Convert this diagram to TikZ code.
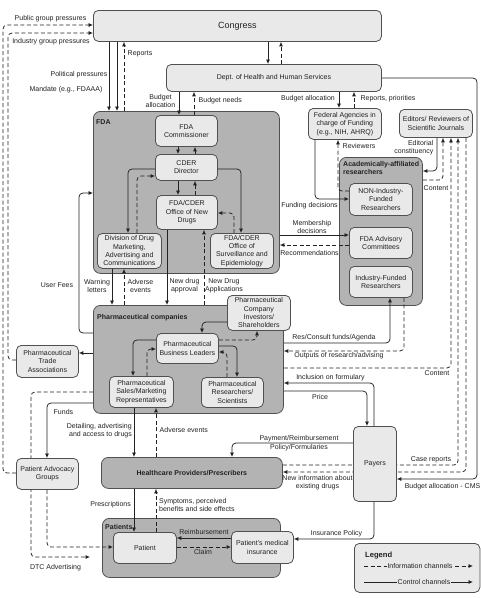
\documentclass[tikz,border=0pt]{standalone}
\usepackage{fontspec}
\setmainfont{Liberation Sans}
\usetikzlibrary{arrows.meta}
\pgfdeclarelayer{back}
\pgfdeclarelayer{bg}
\pgfsetlayers{back,bg,main}
\definecolor{lightf}{HTML}{E9E9E9}
\definecolor{darkf}{HTML}{B3B3B3}
\definecolor{bord}{HTML}{505050}
\definecolor{ink}{HTML}{222222}
\newcommand\fs{\fontsize{7}{8.3}\selectfont}
\newcommand\bx[7]{\pgfmathsetmacro\bxw{#5-#3}\pgfmathsetmacro\bxh{#6-#4}%
  \node[#2, anchor=north west, minimum width=\bxw pt, minimum height=\bxh pt] (#1) at (#3,#4) {#7};}
\tikzset{
 lbox/.style={draw=bord, fill=lightf, rounded corners=5pt, line width=0.8pt, align=center, font=\fs, text=ink, inner sep=1pt},
 dbox/.style={draw=bord, fill=darkf, rounded corners=7pt, line width=0.8pt, inner sep=0pt},
 ctrl/.style={draw=ink, line width=0.75pt, rounded corners=4pt, -{Latex[length=4.5pt,width=4pt]}},
 info/.style={ctrl, dash pattern=on 4pt off 2.5pt},
 lbl/.style={font=\fs, text=ink, inner sep=0.5pt, align=center},
 ttl/.style={font=\fs\bfseries, text=ink, inner sep=0pt, align=left, anchor=west},
}
\begin{document}
\begin{tikzpicture}[x=1pt,y=-1pt]
\begin{pgfonlayer}{back}\fill[white] (0,0) rectangle (481,598);\end{pgfonlayer}
\useasboundingbox (0,0) rectangle (481,598);

% ---------- boxes ----------
\bx{cong}{lbox,font=\fontsize{9}{10}\selectfont}{93}{10}{381}{41}{Congress}
\bx{hhs}{lbox}{166}{64}{381}{91}{Dept. of Health and Human Services}

\bx{fda}{dbox}{93}{111}{279}{273}{}
\node[ttl] (tfda) at (96,122) {FDA};
\bx{fdacom}{lbox}{155}{115}{217}{146}{FDA\\Commissioner}
\bx{cder}{lbox}{155}{154}{217}{180}{CDER\\Director}
\bx{ond}{lbox}{156}{195}{217}{229}{FDA/CDER\\Office of New\\Drugs}
\bx{ddm}{lbox}{97}{233}{161}{268}{Division of Drug\\Marketing,\\Advertising and\\Communications}
\bx{ose}{lbox}{210}{233}{273}{268}{FDA/CDER\\Office of\\Surveillance and\\Epidemiology}

\bx{fed}{lbox}{308}{108}{381}{139}{Federal Agencies in\\charge of Funding\\(e.g., NIH, AHRQ)}
\bx{edit}{lbox}{399}{109}{472}{137}{Editors/ Reviewers of\\Scientific Journals}

\bx{acad}{dbox}{339}{157}{422}{305}{}
\node[ttl] (tacad) at (343,168) {Academically-affiliated\\researchers};
\bx{nonind}{lbox}{349}{183}{412}{215}{NON-Industry-\\Funded\\Researchers}
\bx{adv}{lbox}{349}{227}{412}{258}{FDA Advisory\\Committees}
\bx{indf}{lbox}{349}{266}{412}{297}{Industry-Funded\\Researchers}

\bx{pharma}{dbox}{93}{305}{283}{413}{}
\node[ttl] (tpharma) at (97,318) {Pharmaceutical companies};
\bx{inv}{lbox}{227}{295}{290}{330}{Pharmaceutical\\Company\\Investors/\\Shareholders}
\bx{pbl}{lbox}{156}{333}{218}{363}{Pharmaceutical\\Business Leaders}
\bx{sales}{lbox}{109}{376}{173}{407}{Pharmaceutical\\Sales/Marketing\\Representatives}
\bx{res}{lbox}{201}{377}{263}{407}{Pharmaceutical\\Researchers/\\Scientists}

\bx{trade}{lbox}{16}{345}{78}{377}{Pharmaceutical\\Trade\\Associations}
\bx{pag}{lbox}{16}{458}{78}{489}{Patient Advocacy\\Groups}

\bx{hcp}{dbox,font=\fs\bfseries,text=ink}{101}{457}{282}{488}{Healthcare Providers/Prescribers}
\bx{payers}{lbox}{353}{426}{396}{501}{Payers}

\bx{patients}{dbox}{102}{518}{280}{577}{}
\node[ttl] (tpatients) at (105,527) {Patients};
\bx{patient}{lbox}{113}{532}{176}{563}{Patient}
\bx{ins}{lbox}{231}{531}{293}{563}{Patient's medical\\insurance}

\bx{legend}{lbox}{354}{543}{479.5}{592}{}
\node[ttl,font=\fontsize{7.6}{9}\selectfont\bfseries] (tlegend) at (365,556) {Legend};

% ---------- connectors passing behind boxes ----------
\begin{pgfonlayer}{bg}
\draw[info] (hcp.east |- 0,465) -| (edit.south -| 458,0);
\draw[info] (edit.south -| 466,0) |- (hcp.east |- 0,472);
\coordinate (dtcend) at (90,557);
\draw[info] (pharma.west |- 0,392) -| (31,557) -- (dtcend);
\end{pgfonlayer}

% ---------- Congress ----------
\draw[ctrl] (cong.south -| 109,0) -- (fda.north -| 109,0);
\draw[ctrl] (cong.south -| 117,0) -- (fda.north -| 117,0);
\draw[info] (fda.north -| 124,0) -- (cong.south -| 124,0);
\draw[ctrl] (cong.south -| 268,0) -- (hhs.north -| 268,0);
\draw[info] (hhs.north -| 281,0) -- (cong.south -| 281,0);
\draw[info] (pag.west |- 0,473) -| (3,25) -- (cong.west |- 0,25);
\draw[info] (trade.west |- 0,360) -| (8,33) -- (cong.west |- 0,33);

\node[lbl] (lpub) at (50.5,19) {Public group pressures};
\node[lbl] (lind) at (51,42) {Industry group pressures};
\node[lbl] (lpol) at (79,75) {Political pressures};
\node[lbl] (lman) at (66,90) {Mandate (e.g., FDAAA)};
\node[lbl] (lrep) at (140,54) {Reports};

% ---------- HHS ----------
\draw[ctrl] (hhs.south -| 179,0) -- (fdacom.north -| 179,0);
\draw[info] (fdacom.north -| 194,0) -- (hhs.south -| 194,0);
\node[lbl] (lba1) at (160.5,101) {Budget\\allocation};
\node[lbl,anchor=west] (lbn) at (198,101) {Budget needs};
\draw[ctrl] (hhs.south -| 339,0) -- (fed.north -| 339,0);
\draw[info] (fed.north -| 354,0) -- (hhs.south -| 354,0);
\node[lbl] (lba2) at (308,99) {Budget allocation};
\node[lbl] (lrp) at (388,99) {Reports, priorities};
\draw[ctrl] (hhs.east |- 0,78) -| (477,479) -- (payers.east |- 0,479);
\node[lbl,anchor=east,inner sep=0pt] (lcms) at (480.5,487) {Budget allocation - CMS};

% ---------- FDA internal ----------
\draw[ctrl] (fdacom.south -| 178,0) -- (cder.north -| 178,0);
\draw[info] (cder.north -| 195,0) -- (fdacom.south -| 195,0);
\draw[ctrl] (cder.south -| 178,0) -- (ond.north -| 178,0);
\draw[info] (ond.north -| 195,0) -- (cder.south -| 195,0);
\draw[ctrl] (cder.west |- 0,169) -| (ddm.north -| 128,0);
\draw[info] (ddm.north -| 137,0) |- (cder.west |- 0,176);
\draw[ctrl] (cder.east |- 0,169) -| (ose.north -| 241,0);
\draw[info] (ose.north -| 234,0) |- (ond.east |- 0,213);

% ---------- academic ----------
\draw[ctrl] (fed.south -| 315,0) |- (nonind.west |- 0,199);
\draw[info] (nonind.west |- 0,191) -| (fed.south -| 338,0);
\node[lbl] (lfund) at (309.5,206) {Funding decisions};
\node[lbl,anchor=west] (lrev) at (342,146) {Reviewers};
\draw[ctrl] (fda.east |- 0,235) -- (adv.west |- 0,235);
\draw[info] (adv.west |- 0,245) -- (fda.east |- 0,245);
\node[lbl] (lmem) at (312,227) {Membership\\decisions};
\node[lbl] (lrec) at (309.5,253) {Recommendations};
\draw[ctrl] (edit.south -| 437,0) |- (acad.east |- 0,171);
\draw[info] (acad.east |- 0,180) -| (edit.south -| 443,0);
\node[lbl,align=right,anchor=east] (ledc) at (434,147.5) {Editorial\\constituency};
\node[lbl] (lcont1) at (436,188) {Content};

% ---------- pharma links ----------
\draw[ctrl] (pharma.east |- 0,343) -| (indf.south -| 390,0);
\draw[info] (indf.south -| 404,0) |- (pharma.east |- 0,351);
\node[lbl] (lres) at (334,338) {Res/Consult funds/Agenda};
\node[lbl] (lout) at (339,356) {Outputs of research/advising};
\draw[info] (pharma.east |- 0,368) -| (edit.south -| 451,0);
\node[lbl] (lcont2) at (437,373) {Content};
\draw[ctrl] (payers.north -| 374,0) |- (pharma.east |- 0,383);
\draw[ctrl] (pharma.east |- 0,391) -| (payers.north -| 367,0);
\node[lbl] (lincl) at (330.5,378) {Inclusion on formulary};
\node[lbl] (lprice) at (320,397) {Price};
\draw[ctrl] (payers.west |- 0,443) -| (hcp.north -| 232,0);
\node[lbl] (lpay1) at (299,438.5) {Payment/Reimbursement};
\node[lbl] (lpay2) at (299,448) {Policy/Formularies};
\node[lbl] (lcase) at (431,460) {Case reports};
\node[lbl] (lnew) at (317.5,483) {New information about\\existing drugs};
\draw[ctrl] (payers.south -| 374,0) |- (ins.east |- 0,539);
\node[lbl] (linsp) at (336.5,534) {Insurance Policy};

% ---------- pharma internal ----------
\draw[ctrl] (inv.west |- 0,322) -| (pbl.north -| 202,0);
\draw[info] (pbl.east |- 0,340) -| (inv.south -| 257,0);
\draw[ctrl] (pbl.west |- 0,340) -| (sales.north -| 133,0);
\draw[info] (sales.north -| 147,0) |- (pbl.west |- 0,349);
\draw[ctrl] (pbl.east |- 0,346) -| (res.north -| 237,0);
\draw[info] (res.north -| 227,0) |- (pbl.east |- 0,352);

% ---------- FDA <-> pharma ----------
\draw[ctrl] (ddm.south -| 112,0) -- (pharma.north -| 112,0);
\draw[info] (pharma.north -| 124,0) -- (ddm.south -| 124,0);
\draw[ctrl] (ond.south -| 167,0) -- (pharma.north -| 167,0);
\draw[info] (pharma.north -| 204,0) -- (ond.south -| 204,0);
\node[lbl] (lwarn) at (97,286) {Warning\\letters};
\node[lbl] (ladv1) at (140.5,286) {Adverse\\events};
\node[lbl] (lnda) at (184.5,286) {New drug\\approval};
\node[lbl] (lndap) at (224,286) {New Drug\\Applications};
\draw[ctrl] (pharma.west |- 0,333) -| (79,193) -- (fda.west |- 0,193);
\node[lbl] (luser) at (57,285) {User Fees};
\draw[ctrl] (pharma.west |- 0,353) -- (trade.east |- 0,353);

% ---------- lower left ----------
\draw[ctrl] (pharma.west |- 0,403) -| (pag.north -| 47,0);
\node[lbl,anchor=west] (lfunds) at (53,412) {Funds};
\node[lbl] (ldtc) at (55.5,568) {DTC Advertising};
\draw[info] (pag.south -| 47,0) |- (patient.west |- 0,547);

\draw[ctrl] (sales.south -| 134,0) -- (hcp.north -| 134,0);
\draw[info] (hcp.north -| 156,0) -- (sales.south -| 156,0);
\node[lbl,align=right,anchor=east] (ldet) at (132.5,431) {Detailing, advertising\\and access to drugs};
\node[lbl,anchor=west] (ladv2) at (159,430) {Adverse events};
\draw[ctrl] (hcp.south -| 134,0) -- (patient.north -| 134,0);
\draw[info] (patient.north -| 156,0) -- (hcp.south -| 156,0);
\node[lbl,anchor=east] (lpres) at (131.5,505) {Prescriptions};
\node[lbl,align=left,anchor=west] (lsym) at (158.5,505) {Symptoms, perceived\\benefits and side effects};

\draw[ctrl] (ins.west |- 0,538) -- (patient.east |- 0,538);
\draw[info] (patient.east |- 0,547) -- (ins.west |- 0,547);
\node[lbl] (lreim) at (204,532) {Reimbursement};
\node[lbl] (lclaim) at (203,552) {Claim};

% ---------- legend ----------
\coordinate (li1) at (364,566); \coordinate (li2) at (473,566);
\coordinate (lc1) at (364,582); \coordinate (lc2) at (473,582);
\draw[info] (li1) -- (li2);
\draw[ctrl] (lc1) -- (lc2);
\node[lbl,fill=lightf,inner sep=0.8pt] (linfo) at (420,566) {Information channels};
\node[lbl,fill=lightf,inner sep=0.8pt] (lctrl) at (424,582) {Control channels};
\end{tikzpicture}
\end{document}
